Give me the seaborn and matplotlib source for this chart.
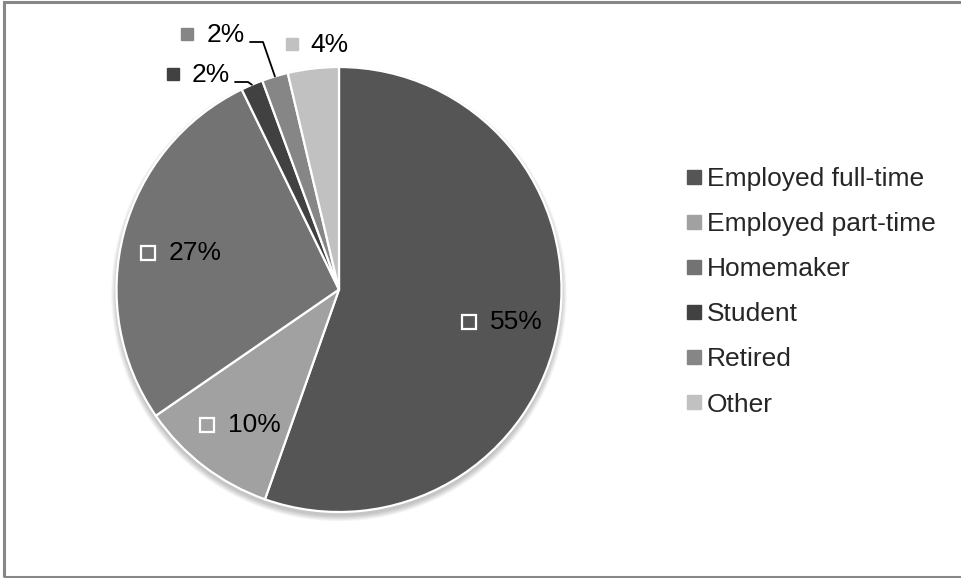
import numpy as np
import matplotlib
matplotlib.use("Agg")
import matplotlib.pyplot as plt
from matplotlib.patches import Circle, Rectangle
from matplotlib.lines import Line2D
import seaborn as sns

# Employment status share (percent)
categories = ["Employed full-time", "Employed part-time", "Homemaker",
              "Student", "Retired", "Other"]
shares = [55.4, 10.0, 27.4, 1.6, 1.9, 3.7]
colors = ["#555555", "#a1a1a1", "#737373", "#414141", "#868686", "#c1c1c1"]

sns.set_theme(style="white")
plt.rcParams["font.family"] = ["Liberation Sans", "DejaVu Sans"]

W, H = 961, 578
fig = plt.figure(figsize=(W / 100, H / 100), dpi=100)
ax = fig.add_axes([0, 0, 1, 1])


def up(y):
    """Convert a top-down pixel row into axes y."""
    return H - y


cx, cy, r = 339, up(289.5), 222.5
palette = sns.color_palette(colors)

# soft drop shadow under the pie, strongest along the lower rim
for i in range(10):
    ax.add_patch(Circle((cx, cy - 4), r + i * 0.6, color="black",
                        alpha=0.025, lw=0, zorder=1))

wedges, _ = ax.pie(shares, colors=palette, startangle=90, counterclock=False,
                   center=(cx, cy), radius=r, frame=True,
                   wedgeprops=dict(edgecolor="white", linewidth=1.6, zorder=2))
ax.set_xlim(0, W)
ax.set_ylim(0, H)
ax.set_aspect("equal")
ax.axis("off")

fs = 19
labels = [f"{v:.0f}%" for v in shares]
cum = np.cumsum([0] + shares)
mids = [(cum[i] + cum[i + 1]) / 2 * 3.6 for i in range(len(shares))]

# labels inside the three large slices
for i in range(3):
    th = np.deg2rad(mids[i])
    gx = cx + 0.74 * r * np.sin(th)
    gy = cy + 0.74 * r * np.cos(th) - 5
    ax.plot(gx - 32, gy, marker="s", ms=10.5, mfc=palette[i], mec="white",
            mew=1.6, zorder=5)
    ax.text(gx - 11, gy, labels[i], fontsize=fs, ha="left", va="center",
            color="black", zorder=5)

# labels outside the small slices: (square x, text x, row) per slice
outside = {3: (173, 192, 75), 4: (187, 207, 35), 5: (292, 310, 45)}
leaders = {3: (235, 248, 82), 4: (250, 263, 42)}
for i, (sx, tx, ty) in outside.items():
    ax.plot(sx, up(ty - 1), marker="s", ms=9, mfc=palette[i], mec=palette[i],
            zorder=5)
    ax.text(tx, up(ty), labels[i], fontsize=fs, ha="left", va="center",
            color="black", zorder=5)
    if i in leaders:
        x0, x1, ly = leaders[i]
        th = np.deg2rad(mids[i])
        ex = cx + r * np.sin(th)
        ey = cy + r * np.cos(th)
        ax.add_line(Line2D([x0, x1, ex], [up(ly), up(ly), ey], color="black",
                           lw=1.3, zorder=5))

# legend
handles = [Line2D([], [], marker="s", ls="", ms=10, mfc=c, mec=c)
           for c in palette]
fig.legend(handles, categories, loc="upper left",
           bbox_to_anchor=(686 / W, 1 - 167 / H), frameon=False,
           fontsize=fs, handlelength=0.6, handletextpad=0.2,
           labelspacing=0.8, borderaxespad=0, borderpad=0)

# chart border
ax.add_patch(Rectangle((3.5, up(577)), W + 10, 575.5, fill=False,
                       edgecolor="#878787", lw=2.2, zorder=10, clip_on=False))

fig.savefig("out.png", dpi=100)
